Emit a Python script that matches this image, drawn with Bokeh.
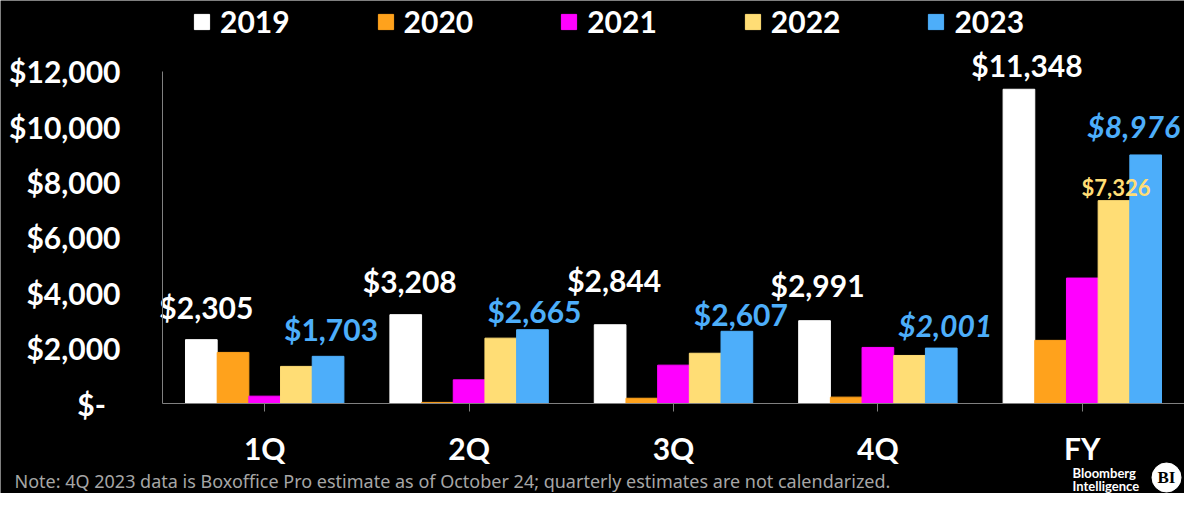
from bokeh.plotting import figure
from bokeh.models import ColumnDataSource, FixedTicker, Range1d
from bokeh.transform import dodge
from bokeh.core.properties import value
from bokeh.embed import file_html
from bokeh.resources import INLINE

# ---------------- data ----------------
quarters = ["1Q", "2Q", "3Q", "4Q", "FY"]
years = ["2019", "2020", "2021", "2022", "2023"]
v2019 = [2305, 3208, 2844, 2991, 11348]
v2020 = [1845, 40, 190, 230, 2280]
v2021 = [265, 855, 1385, 2025, 4530]
v2022 = [1340, 2360, 1815, 1735, 7326]
v2023 = [1703, 2665, 2607, 2001, 8976]
y_ticks = [0, 2000, 4000, 6000, 8000, 10000, 12000]
y_tick_labels = ["$-\u00a0\u00a0", "$2,000", "$4,000", "$6,000", "$8,000", "$10,000", "$12,000"]
note_text = ("Note: 4Q 2023 data is Boxoffice Pro estimate as of October 24; "
             "quarterly estimates are not calendarized.")
brand_lines = ["Bloomberg", "Intelligence"]
brand_mark = "BI"

# ---------------- style / geometry ----------------
colors = ["#FFFFFF", "#FFA21C", "#FF00FF", "#FFDD75", "#4DAEFA"]
FONT = "Lato"
W, H = 1184, 493
X0, Y0 = 162, 403            # pixel position of the plot origin
CW = (W - X0) / len(quarters)  # pixels per category
UPP = 12000 / (Y0 - 70.7)      # value units per pixel
BAR_W = 0.155
offsets = [-2 * BAR_W, -BAR_W, 0.0, BAR_W, 2 * BAR_W]

def px_x(px):
    return (px - X0) / CW

def px_y(py):
    return (Y0 - py) * UPP

cat_x = [i + 0.5 for i in range(len(quarters))]

src = ColumnDataSource(dict(x=cat_x, y2019=v2019, y2020=v2020, y2021=v2021,
                            y2022=v2022, y2023=v2023))

p = figure(x_range=Range1d(px_x(0), px_x(W)), y_range=Range1d(px_y(H), px_y(0)),
           width=W, height=H, output_backend="svg", toolbar_location=None,
           min_border=0, background_fill_color="black", border_fill_color="black",
           outline_line_color=None)

for yr, col, off in zip(years, colors, offsets):
    p.vbar(x=dodge("x", off), top="y" + yr, width=BAR_W,
           fill_color=col, line_color=col, source=src, legend_label=yr)

def fmt(v):
    return "${:,}".format(v)

def add_labels(idx, vals, off, dx, dy, color, size, style):
    s = ColumnDataSource(dict(x=[cat_x[i] for i in idx], y=vals,
                              t=[fmt(v) for v in vals], dx=dx, dy=dy))
    p.text(x=dodge("x", off), y="y", text="t", x_offset="dx",
           y_offset="dy", source=s, text_align="center", text_baseline="alphabetic",
           text_color=color, text_font=value(FONT), text_font_size=size,
           text_font_style=style)

add_labels([0, 1, 2, 3, 4], v2019, offsets[0], [5, 4, 4, 3, 8], [-33, -34, -45, -36, -24],
           "#FFFFFF", "30px", "bold")
add_labels([0, 1, 2], v2023[:3], offsets[4], [3, 2, 4], [-27, -19, -17],
           colors[4], "30px", "bold")
add_labels([3, 4], v2023[3:], offsets[4], [4, -12], [-23, -29],
           colors[4], "30px", "bold italic")
add_labels([4], v2022[4:], offsets[3], [2], [-13], colors[3], "22px", "bold")

# axes (pinned to the data origin so the canvas can hold the footer)
p.xgrid.visible = False
p.ygrid.visible = False
p.yaxis.fixed_location = 0
p.xaxis.fixed_location = 0
p.yaxis.ticker = FixedTicker(ticks=y_ticks)
p.yaxis.major_label_overrides = {t: l for t, l in zip(y_ticks, y_tick_labels)}
p.yaxis.bounds = (0, 12000)
p.yaxis.axis_line_color = "#808080"
p.yaxis.major_tick_line_color = None
p.yaxis.minor_tick_line_color = None
p.yaxis.major_tick_out = 0
p.yaxis.major_tick_in = 0
p.yaxis.major_label_standoff = 42
p.xaxis.ticker = FixedTicker(ticks=cat_x)
p.xaxis.major_label_overrides = {x: q for x, q in zip(cat_x, quarters)}
p.xaxis.bounds = (0, len(quarters))
p.xaxis.axis_line_color = "#808080"
p.xaxis.major_tick_line_color = "#808080"
p.xaxis.minor_tick_line_color = None
p.xaxis.major_tick_out = 8
p.xaxis.major_tick_in = 0
p.xaxis.major_label_standoff = 18
for ax in (p.xaxis, p.yaxis):
    ax.major_label_text_font = FONT
    ax.major_label_text_font_size = "30px"
    ax.major_label_text_font_style = "bold"
    ax.major_label_text_color = "white"

# legend
lg = p.legend[0]
lg.orientation = "horizontal"
lg.location = (192, H - 39)
lg.glyph_width = 19
lg.glyph_height = 19
lg.label_standoff = 9
lg.spacing = 86
lg.padding = 0
lg.margin = 0
lg.background_fill_alpha = 0
lg.border_line_color = None
lg.label_text_font = FONT
lg.label_text_font_size = "30px"
lg.label_text_font_style = "bold"
lg.label_text_color = "white"

# footer: note + brand mark
p.text(x=[px_x(14)], y=[px_y(480)], text=[note_text], text_font=value("Noto Sans"),
       text_font_size="18px", text_color="#A6A6A6", text_baseline="alphabetic")
p.text(x=[px_x(1072)] * 2, y=[px_y(472), px_y(485)], text=brand_lines,
       text_font=value(FONT), text_font_size="13px", text_font_style="bold",
       text_color="white", text_baseline="alphabetic")
p.scatter(x=[px_x(1166)], y=[px_y(477)], size=29, marker="circle",
          fill_color="white", line_color="white")
p.text(x=[px_x(1166)], y=[px_y(477)], text=[brand_mark],
       text_font=value("Liberation Serif"), text_font_size="17px",
       text_font_style="bold", text_color="black", text_align="center",
       text_baseline="middle")

open("out.html", "w").write(file_html(p, INLINE))
